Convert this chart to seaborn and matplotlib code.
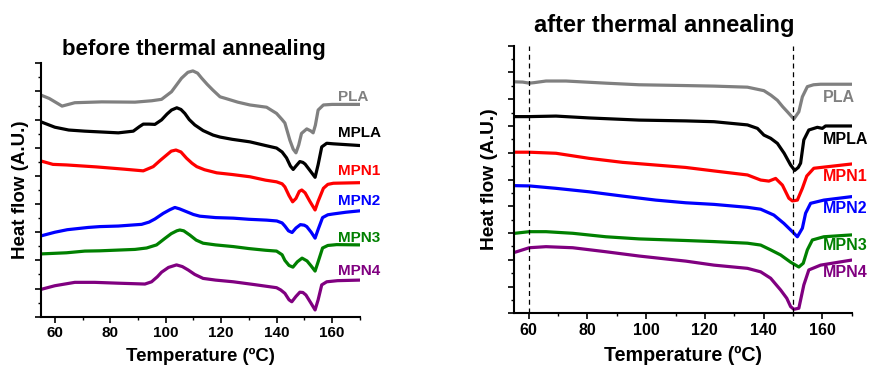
import numpy as np
import pandas as pd
import matplotlib
matplotlib.use("Agg")
import matplotlib.pyplot as plt
from matplotlib.ticker import MultipleLocator, NullFormatter
import seaborn as sns

sns.set_theme(style="ticks")
plt.rcParams['font.family'] = ['Liberation Sans', 'DejaVu Sans']
plt.rcParams['font.weight'] = 'bold'
plt.rcParams['text.color'] = 'black'
plt.rcParams['axes.labelcolor'] = 'black'
plt.rcParams['xtick.color'] = 'black'
plt.rcParams['ytick.color'] = 'black'
plt.rcParams['lines.solid_joinstyle'] = 'round'
plt.rcParams['lines.solid_capstyle'] = 'round'

samples = ["PLA", "MPLA", "MPN1", "MPN2", "MPN3", "MPN4"]
colors = ["#808080", "#000000", "#ff0000", "#0000ff", "#008000", "#800080"]

# ---------------- before thermal annealing ----------------
b_pla_T = [55, 58, 62.6, 67.2, 76.9, 88.9, 95, 98.5, 102.1, 105.7, 108, 109.8, 111.5, 113, 115, 117, 119.6, 122, 126, 130.4, 136.4, 140, 142, 143, 144.8, 146, 147, 148, 149, 150.9, 152.3, 153.2, 154, 155, 156.9, 160, 170]
b_pla_y = [7.87, 7.75, 7.48, 7.60, 7.63, 7.62, 7.67, 7.72, 7.99, 8.47, 8.68, 8.73, 8.65, 8.47, 8.25, 8.05, 7.81, 7.74, 7.62, 7.52, 7.44, 7.22, 7.00, 6.88, 6.27, 5.95, 5.82, 6.10, 6.51, 6.67, 6.60, 6.53, 6.80, 7.34, 7.52, 7.54, 7.54]

b_mpla_T = [55, 60, 65, 70.8, 82.9, 88.3, 90.5, 91.9, 94, 96.1, 98.5, 100.5, 102.1, 104, 105.5, 106.9, 108.5, 110.5, 113.5, 117.1, 119.6, 124, 130.4, 136, 140, 142, 143.6, 145, 146, 147, 148.4, 149.5, 150.3, 152, 153.9, 155, 156.3, 158.1, 160.5, 170]
b_mpla_y = [6.92, 6.73, 6.63, 6.59, 6.53, 6.59, 6.75, 6.84, 6.84, 6.83, 6.99, 7.20, 7.34, 7.42, 7.36, 7.22, 7.00, 6.81, 6.61, 6.45, 6.38, 6.30, 6.21, 6.08, 5.99, 5.85, 5.64, 5.35, 5.23, 5.35, 5.51, 5.48, 5.42, 5.20, 4.95, 5.40, 6.03, 6.16, 6.14, 6.08]

b_mpn1_T = [55, 59.3, 64.2, 75, 85, 91.9, 95.5, 98, 100.3, 102, 103.7, 105.5, 107.5, 109.5, 111.2, 114, 118.4, 124, 130.4, 136, 140, 142, 143, 144.5, 145.8, 147, 148.2, 149.1, 150.3, 152, 153.9, 155, 156.9, 158.5, 160.5, 170]
b_mpn1_y = [5.53, 5.41, 5.39, 5.32, 5.24, 5.18, 5.33, 5.55, 5.74, 5.88, 5.92, 5.85, 5.63, 5.45, 5.33, 5.22, 5.11, 5.05, 4.97, 4.85, 4.79, 4.72, 4.61, 4.30, 4.08, 4.20, 4.45, 4.50, 4.40, 4.10, 3.79, 4.10, 4.56, 4.70, 4.74, 4.76]

b_mpn2_T = [55, 60, 64.5, 72, 76.2, 82.9, 91.3, 94, 96.1, 99.1, 101.5, 103.3, 105, 107.5, 110, 112.3, 118, 124.4, 130, 136.4, 140.1, 142, 143, 144.3, 145.6, 147, 148.6, 150, 150.9, 152.5, 153.9, 155, 156.6, 158.5, 160.5, 165, 170]
b_mpn2_y = [2.87, 3.00, 3.09, 3.17, 3.20, 3.22, 3.28, 3.36, 3.47, 3.67, 3.80, 3.88, 3.83, 3.73, 3.63, 3.57, 3.52, 3.50, 3.46, 3.43, 3.40, 3.33, 3.22, 3.05, 2.99, 3.15, 3.27, 3.25, 3.20, 3.00, 2.79, 3.10, 3.52, 3.62, 3.65, 3.71, 3.76]

b_mpn3_T = [55, 64.2, 70.8, 76.2, 88.9, 93.1, 96.7, 99.7, 102, 104, 105.1, 106.5, 108.7, 111, 113.5, 118, 124.4, 130, 136, 140, 142, 143, 144.5, 145.9, 147.5, 149.2, 151, 152.5, 153.9, 155, 156.6, 158.5, 161.7, 170]
b_mpn3_y = [2.23, 2.27, 2.33, 2.34, 2.39, 2.44, 2.55, 2.78, 2.95, 3.05, 3.08, 3.05, 2.90, 2.72, 2.61, 2.55, 2.49, 2.42, 2.36, 2.33, 2.20, 2.00, 1.82, 1.76, 1.95, 2.08, 1.98, 1.80, 1.62, 1.95, 2.44, 2.53, 2.56, 2.55]

b_mpn4_T = [55, 60, 67.2, 74.4, 82.9, 92.5, 94.9, 97, 98.5, 101, 103.9, 106, 108.1, 110.5, 113.5, 118, 124.4, 132, 140, 141.5, 143, 144.5, 145.5, 147, 148.4, 149.5, 150.6, 152.3, 153.9, 155, 156.3, 158.1, 162, 170]
b_mpn4_y = [0.97, 1.10, 1.22, 1.22, 1.19, 1.16, 1.24, 1.42, 1.58, 1.75, 1.84, 1.78, 1.66, 1.50, 1.36, 1.30, 1.24, 1.14, 1.03, 0.95, 0.83, 0.60, 0.53, 0.72, 0.87, 0.86, 0.77, 0.50, 0.24, 0.60, 1.13, 1.24, 1.28, 1.30]

# ---------------- after thermal annealing ----------------
a_pla_T = [55.3, 58, 60.2, 61.9, 65.9, 72.7, 86.3, 97.6, 113.5, 123.1, 134.5, 140.1, 142.5, 144.7, 146.5, 148.1, 150.3, 152, 153.2, 154.9, 157, 159.4, 170]
a_pla_y = [8.65, 8.64, 8.60, 8.62, 8.68, 8.68, 8.60, 8.54, 8.51, 8.49, 8.45, 8.32, 8.15, 7.96, 7.72, 7.53, 7.26, 7.53, 8.09, 8.47, 8.54, 8.56, 8.56]

a_mpla_T = [55.3, 60.2, 69.3, 80.6, 97.6, 113.5, 123.1, 134.5, 137.9, 140.1, 142.4, 144.7, 147, 149.2, 150.6, 151.8, 152.6, 153.7, 155.4, 158.3, 160, 161.1, 170]
a_mpla_y = [7.35, 7.35, 7.37, 7.30, 7.22, 7.19, 7.16, 7.04, 6.91, 6.66, 6.54, 6.35, 5.98, 5.54, 5.34, 5.45, 5.61, 6.48, 6.85, 6.95, 6.91, 7.00, 7.00]

a_mpn1_T = [55, 60.2, 69.3, 80.6, 92, 103.3, 113.5, 123.1, 134.5, 139, 141.8, 144.1, 146.4, 148.6, 149.8, 151.5, 153.2, 154.7, 157.1, 170]
a_mpn1_y = [6.02, 6.02, 5.98, 5.79, 5.64, 5.54, 5.45, 5.32, 5.17, 4.98, 4.94, 5.04, 4.79, 4.30, 4.20, 4.23, 4.67, 5.13, 5.42, 5.58]

a_mpn2_T = [55.3, 60.2, 69.3, 80.6, 92, 103.3, 113.5, 123.1, 134.5, 139, 143.5, 146.9, 149.8, 151.5, 153.2, 154.3, 156, 160.5, 170]
a_mpn2_y = [4.77, 4.76, 4.67, 4.54, 4.38, 4.23, 4.13, 4.07, 3.96, 3.89, 3.67, 3.36, 3.05, 2.86, 3.18, 3.74, 4.11, 4.23, 4.36]

a_mpn3_T = [55.3, 60.2, 65.9, 75, 86.3, 97.6, 113.5, 123.1, 134.5, 139, 142.4, 145.8, 149.2, 152, 153.5, 154.9, 156.6, 160.5, 170]
a_mpn3_y = [2.99, 3.05, 3.05, 2.99, 2.86, 2.78, 2.72, 2.68, 2.62, 2.55, 2.37, 2.18, 1.91, 1.73, 1.87, 2.37, 2.74, 2.86, 2.93]

a_mpn4_T = [55.3, 60.2, 65.9, 75, 86.3, 97.6, 113.5, 123.1, 134.5, 139, 142.4, 145.8, 147.9, 149.2, 150.3, 152, 153.7, 155.4, 159.4, 170]
a_mpn4_y = [2.28, 2.45, 2.49, 2.45, 2.30, 2.14, 1.95, 1.80, 1.68, 1.55, 1.31, 0.87, 0.56, 0.25, 0.15, 0.19, 1.06, 1.62, 1.80, 1.99]

# label anchor positions (data coords)
b_label_T = 162.2
b_label_y = [7.80, 6.52, 5.17, 4.11, 2.81, 1.62]
a_label_T = 160.1
a_label_y = [8.08, 6.51, 5.13, 3.90, 2.52, 1.52]
dashed_T = [60, 150]
xticks = [60, 80, 100, 120, 140, 160]


def long_df(Ts, ys):
    frames = []
    for name, T, y in zip(samples, Ts, ys):
        frames.append(pd.DataFrame({"T": T, "flow": y, "sample": name}))
    return pd.concat(frames, ignore_index=True)


df_b = long_df([b_pla_T, b_mpla_T, b_mpn1_T, b_mpn2_T, b_mpn3_T, b_mpn4_T],
               [b_pla_y, b_mpla_y, b_mpn1_y, b_mpn2_y, b_mpn3_y, b_mpn4_y])
df_a = long_df([a_pla_T, a_mpla_T, a_mpn1_T, a_mpn2_T, a_mpn3_T, a_mpn4_T],
               [a_pla_y, a_mpla_y, a_mpn1_y, a_mpn2_y, a_mpn3_y, a_mpn4_y])

W, H = 869, 365
fig = plt.figure(figsize=(W / 100, H / 100), dpi=100)
fig.patch.set_facecolor("white")


def px_axes(x0, y0, x1, y1):
    return fig.add_axes([x0 / W, (H - y1) / H, (x1 - x0) / W, (y1 - y0) / H])


ax1 = px_axes(41, 63.3, 359.7, 316.7)
ax2 = px_axes(514, 45.7, 851.7, 313.3)

pal = dict(zip(samples, colors))

for ax, df, ytop, fs_tick in [(ax1, df_b, 9, 11), (ax2, df_a, 10, 11.5)]:
    ax.set_facecolor("white")
    sns.lineplot(data=df, x="T", y="flow", hue="sample", palette=pal, sort=False,
                 estimator=None, legend=False, lw=2.3, ax=ax)
    ax.set_xlim(55, 170)
    ax.set_ylim(0, ytop)
    ax.set_xticks(xticks)
    ax.xaxis.set_minor_locator(MultipleLocator(10))
    ax.yaxis.set_major_locator(MultipleLocator(1))
    ax.yaxis.set_minor_locator(MultipleLocator(0.5))
    ax.yaxis.set_major_formatter(NullFormatter())
    ax.set_xlabel("")
    ax.set_ylabel("")
    for s in ["top", "right"]:
        ax.spines[s].set_visible(False)
    for s in ["left", "bottom"]:
        ax.spines[s].set_linewidth(1.5)
        ax.spines[s].set_color("black")
    ax.tick_params(which="major", direction="out", length=4, width=1.2, color="black", pad=3)
    ax.tick_params(which="minor", direction="out", length=2.2, width=1.0, color="black")
    for lab in ax.get_xticklabels():
        lab.set_fontweight("bold")
        lab.set_fontsize(fs_tick)
        lab.set_color("black")
    ax.grid(False)

for T in dashed_T:
    ax2.axvline(T, color="black", lw=0.9, ls=(0, (4, 3)), zorder=5)

for name, c, y in zip(samples, colors, b_label_y):
    ax1.text(b_label_T, y, name, color=c, fontsize=11, fontweight="bold",
             ha="left", va="center", clip_on=False)
for name, c, y in zip(samples, colors, a_label_y):
    ax2.text(a_label_T, y, name, color=c, fontsize=11.5, fontweight="bold",
             ha="left", va="center", clip_on=False)


def ftext(x, y, s, **kw):
    fig.text(x / W, (H - y) / H, s, fontweight="bold", color="black", **kw)


ftext(194, 55, "before thermal annealing", fontsize=16, ha="center", va="baseline")
ftext(664, 31.7, "after thermal annealing", fontsize=17, ha="center", va="baseline")
ftext(200.5, 361, "Temperature (ºC)", fontsize=13.4, ha="center", va="baseline")
ftext(683, 361, "Temperature (ºC)", fontsize=14.2, ha="center", va="baseline")
ftext(20.5, 190, "Heat flow (A.U.)", fontsize=13.5, rotation=90, ha="center", va="center")
ftext(490, 179.5, "Heat flow (A.U.)", fontsize=13.8, rotation=90, ha="center", va="center")

fig.savefig("out.png", dpi=100, facecolor="white")
